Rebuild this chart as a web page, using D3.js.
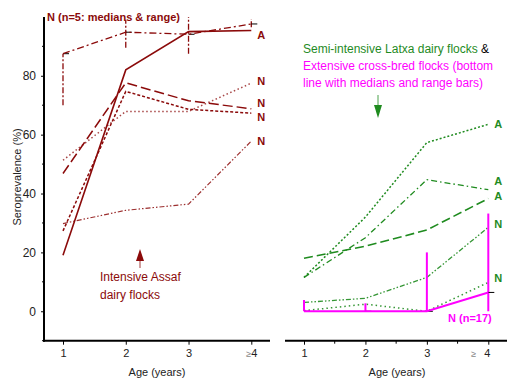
<!DOCTYPE html>
<html>
<head>
<meta charset="utf-8">
<style>
  body { margin: 0; background: #fff; }
  text { font-family: "Liberation Sans", Arial, sans-serif; }
</style>
</head>
<body>
<svg></svg>
<script src="https://d3js.org/d3.v7.min.js"></script>
<script>
const ages = ["1", "2", "3", "4"];

// Intensive Assaf dairy flocks (left)
const assafA = [19, 82, 95, 95.4];
const assafN5 = [87.5, 94.8, 94.1, 97.6];
const assafN5Low = [70, 89.5, 87.5, 96.5];
const assafN5High = [87.5, 99, 100, 99.3];
const assafN1 = [46.8, 77.6, 71.5, 68.8];
const assafN2 = [27.3, 74.7, 68.6, 67.3];
const assafN3 = [51.3, 67.9, 67.9, 77.5];
const assafN4 = [29.8, 34.3, 36.4, 57.8];

// Semi-intensive Latxa (green) & extensive cross-bred (magenta)
const latxaA1 = [11.5, 32, 57.3, 63.5];
const latxaA2 = [11.5, 25, 44.7, 41.3];
const latxaA3 = [18, 22.1, 27.6, 38.3];
const latxaN1 = [3, 4.4, 11.5, 28.5];
const latxaN2 = [0.2, 2.4, 0, 9.8];
const extN17 = [0, 0, 0, 6.4];
const extN17Low = [0, 0, 0, 0];
const extN17High = [3.8, 2.7, 20, 33.2];

const yTicks = [0, 20, 40, 60, 80];
const yMinor = [-10, 10, 30, 50, 70, 90];

const width = 507, height = 378;
const red = "#8b0a0a", green = "#1f8b1f", pink = "#ff00ff";

const svg = d3.select("svg")
  .attr("width", width)
  .attr("height", height)
  .attr("viewBox", [0, 0, width, height]);

const y = d3.scaleLinear([-10, 100], [340.7, 16.9]);
const xL = d3.scaleLinear([1, 4], [63, 251.3]);
const xR = d3.scaleLinear([1, 4], [304, 488.3]);

function drawSeries(x, vals, color, dash, w, opacity) {
  const line = d3.line().x((d, i) => x(i + 1)).y(d => y(d));
  svg.append("path")
    .attr("d", line(vals))
    .attr("fill", "none")
    .attr("stroke", color)
    .attr("stroke-width", w)
    .attr("stroke-dasharray", dash)
    .attr("opacity", opacity || 1);
}

function drawRange(x, med, lo, hi, color, dash, w) {
  med.forEach((m, i) => {
    svg.append("line")
      .attr("x1", x(i + 1)).attr("x2", x(i + 1))
      .attr("y1", y(lo[i])).attr("y2", y(hi[i]))
      .attr("stroke", color).attr("stroke-width", w)
      .attr("stroke-dasharray", dash);
    svg.append("line")
      .attr("x1", x(i + 1)).attr("x2", x(i + 1) + 6)
      .attr("y1", y(m)).attr("y2", y(m))
      .attr("stroke", "#000").attr("stroke-width", 1);
  });
}

function endLabel(x, vals, txt, color, dy) {
  svg.append("text")
    .attr("x", x(4) + 6)
    .attr("y", y(vals[vals.length - 1]) + dy)
    .attr("dy", "0.35em")
    .attr("fill", color)
    .attr("font-size", 11)
    .attr("font-weight", "bold")
    .text(txt);
}

// ---- axes
function xAxis(x, x0, x1, minor) {
  const g = svg.append("g").attr("transform", `translate(0,${y(-10)})`);
  g.append("line").attr("x1", x0).attr("x2", x1)
    .attr("stroke", "#000").attr("stroke-width", 2);
  const ax = d3.axisBottom(x).tickValues([1, 2, 3, 4]).tickSize(4).tickPadding(5)
    .tickFormat((d, i) => ages[i]);
  const ga = g.append("g").call(ax);
  ga.select(".domain").remove();
  ga.selectAll("text").attr("font-size", 11).attr("font-family", null).attr("fill", "#222");
  return ga;
}

const axL = xAxis(xL, 43, 270);
const axR = xAxis(xR, 285, 507);
// "≥ 4" labels
axL.selectAll(".tick").filter(d => d === 4).select("text")
  .text(null)
  .call(t => {
    t.append("tspan").attr("font-size", 9).attr("fill", "#888").text("\u2265");
    t.append("tspan").text("4");
  });
axR.selectAll(".tick").filter(d => d === 4).select("text")
  .text(null).attr("text-anchor", "middle")
  .call(t => {
    t.append("tspan").attr("font-size", 9).attr("fill", "#888").attr("dx", -8).text("\u2265");
    t.append("tspan").attr("dx", 8).text("4");
  });
// minor ticks on right axis
svg.append("g").selectAll("line").data([1.5, 2.5, 3.5]).join("line")
  .attr("x1", d => xR(d)).attr("x2", d => xR(d))
  .attr("y1", y(-10)).attr("y2", y(-10) + 3)
  .attr("stroke", "#000");

const gy = svg.append("g").attr("transform", "translate(44,0)");
gy.append("line").attr("y1", 16.9).attr("y2", y(-10) + 1)
  .attr("stroke", "#000").attr("stroke-width", 2);
const ay = gy.append("g").call(d3.axisLeft(y).tickValues(yTicks).tickSize(3).tickPadding(5));
ay.select(".domain").remove();
ay.selectAll("text").attr("font-size", 12).attr("font-family", null).attr("fill", "#222");
gy.selectAll(".minor").data(yMinor).join("line")
  .attr("x1", -2).attr("x2", 0)
  .attr("y1", d => y(d)).attr("y2", d => y(d))
  .attr("stroke", "#000");

svg.append("text")
  .attr("transform", `translate(17,177) rotate(-90)`)
  .attr("text-anchor", "middle").attr("dy", "0.35em")
  .attr("font-size", 11).attr("fill", "#222")
  .text("Seroprevalence (%)");
svg.append("text").attr("x", 157).attr("y", 376)
  .attr("text-anchor", "middle").attr("font-size", 11).attr("fill", "#222")
  .text("Age (years)");
svg.append("text").attr("x", 397).attr("y", 376)
  .attr("text-anchor", "middle").attr("font-size", 11).attr("fill", "#222")
  .text("Age (years)");

// ---- left panel series
drawRange(xL, assafN5, assafN5Low, assafN5High, red, "6,2,2,2", 1.3);
drawSeries(xL, assafN5, red, "7,3,2,3", 1.3);
drawSeries(xL, assafA, red, null, 1.6);
drawSeries(xL, assafN1, red, "10,4", 1.5);
drawSeries(xL, assafN2, red, "3,2", 1.5);
drawSeries(xL, assafN3, red, "1.5,2.5", 1.5, 0.75);
drawSeries(xL, assafN4, red, "5,2,1.5,2,1.5,2", 1.2, 0.85);

endLabel(xL, assafA, "A", red, 5);
endLabel(xL, assafN3, "N", red, -2);
endLabel(xL, assafN1, "N", red, -6);
endLabel(xL, assafN2, "N", red, 4);
endLabel(xL, assafN4, "N", red, 0);

svg.append("text").attr("x", 47).attr("y", 17).attr("dy", "0.35em")
  .attr("font-size", 11).attr("font-weight", "bold").attr("fill", red)
  .text("N (n=5: medians & range)");

// Intensive Assaf annotation
svg.append("path").attr("d", "M140,249 L136,261 L144,261 Z").attr("fill", red);
svg.append("line").attr("x1", 140).attr("x2", 140).attr("y1", 260).attr("y2", 268)
  .attr("stroke", red).attr("stroke-width", 0.8);
svg.append("text").attr("x", 100).attr("y", 277).attr("dy", "0.35em")
  .attr("font-size", 12).attr("fill", red).text("Intensive Assaf");
svg.append("text").attr("x", 100).attr("y", 295).attr("dy", "0.35em")
  .attr("font-size", 12).attr("fill", red).text("dairy flocks");

// ---- right panel series
drawSeries(xR, latxaA1, green, "2,2", 1.5);
drawSeries(xR, latxaA2, green, "6,3,1.5,3", 1.3);
drawSeries(xR, latxaA3, green, "9,4", 1.6);
drawSeries(xR, latxaN1, green, "5,2,1.5,2,1.5,2", 1.3, 0.9);
drawSeries(xR, latxaN2, green, "1.5,3", 1.5, 0.9);
drawRange(xR, extN17, extN17Low, extN17High, pink, null, 2);
drawSeries(xR, extN17, pink, null, 2);

endLabel(xR, latxaA1, "A", green, 0);
endLabel(xR, latxaA2, "A", green, -9);
endLabel(xR, latxaA3, "A", green, -2);
endLabel(xR, latxaN1, "N", green, -3);
endLabel(xR, latxaN2, "N", green, -4);
svg.append("text").attr("x", 448).attr("y", 318).attr("dy", "0.35em")
  .attr("font-size", 11).attr("font-weight", "bold").attr("fill", pink)
  .text("N (n=17)");

// Latxa / cross-bred annotation
const note = svg.append("text").attr("font-size", 12);
note.append("tspan").attr("x", 303).attr("y", 49).attr("dy", "0.35em")
  .attr("fill", green).text("Semi-intensive Latxa dairy flocks ");
note.append("tspan").attr("fill", "#000").text("&");
svg.append("text").attr("x", 303).attr("y", 66).attr("dy", "0.35em")
  .attr("font-size", 12).attr("fill", pink).text("Extensive cross-bred flocks (bottom");
svg.append("text").attr("x", 303).attr("y", 83).attr("dy", "0.35em")
  .attr("font-size", 12).attr("fill", pink).text("line with medians and range bars)");
svg.append("line").attr("x1", 378).attr("x2", 378).attr("y1", 95).attr("y2", 106)
  .attr("stroke", green).attr("stroke-width", 0.8);
svg.append("path").attr("d", "M378,118 L374,105 L382,105 Z").attr("fill", green);
</script>
</body>
</html>
